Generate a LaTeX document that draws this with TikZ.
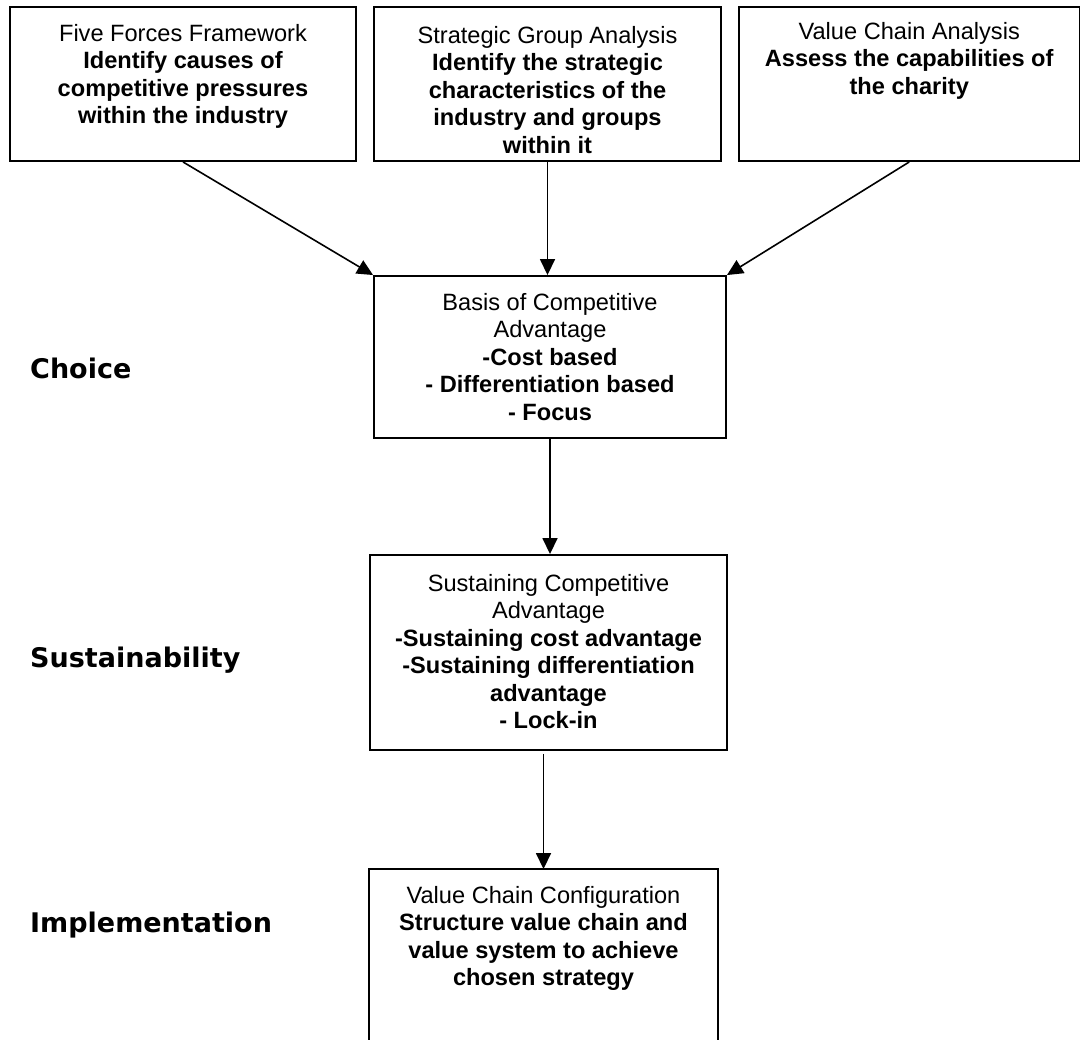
\documentclass[tikz,border=0pt]{standalone}
\usepackage{fontspec}
\setmainfont{Liberation Sans}
\newfontfamily\stagefont{DejaVu Sans}
\usetikzlibrary{arrows.meta}
\begin{document}
\begin{tikzpicture}[x=1pt,y=-1pt,
  box/.style={draw, line width=1.9pt, rectangle, inner sep=0pt},
  boxtext/.style={anchor=north, align=center, inner sep=0pt,
    font=\fontsize{23.6}{27.5}\selectfont},
  link/.style={line width=1.6pt, -{Triangle[length=16pt,width=15pt]}},
  stage/.style={anchor=base west, inner sep=0pt,
    font=\stagefont\bfseries\fontsize{27}{32}\selectfont}]
\useasboundingbox[fill=white] (0,0) rectangle (1081,1039);

% analysis boxes along the top
\node[box, minimum width=346pt, minimum height=154pt] (forces) at (183,84) {};
\node[box, minimum width=347pt, minimum height=154pt] (groups) at (547.5,84) {};
\node[box, minimum width=340.5pt, minimum height=154pt] (chain) at (909.25,84) {};

\node[boxtext] (forcesT) at (183,24) {Five Forces Framework\\
  \textbf{Identify causes of}\\ \textbf{competitive pressures}\\ \textbf{within the industry}};
\node[boxtext] (groupsT) at (547.5,26) {Strategic Group Analysis\\
  \textbf{Identify the strategic}\\ \textbf{characteristics of the}\\
  \textbf{industry and groups}\\ \textbf{within it}};
\node[boxtext] (chainT) at (909.25,22) {Value Chain Analysis\\
  \textbf{Assess the capabilities of}\\ \textbf{the charity}};

% strategy boxes down the middle
\node[box, minimum width=352pt, minimum height=162pt] (basis) at (550,357) {};
\node[boxtext] (basisT) at (550,293) {Basis of Competitive\\ Advantage\\
  \textbf{-Cost based}\\ \textbf{- Differentiation based}\\ \textbf{- Focus}};

\node[box, minimum width=357pt, minimum height=195pt] (sust) at (548.5,652.5) {};
\node[boxtext] (sustT) at (548.5,574) {Sustaining Competitive\\ Advantage\\
  \textbf{-Sustaining cost advantage}\\ \textbf{-Sustaining differentiation}\\
  \textbf{advantage}\\ \textbf{- Lock-in}};

\node[box, draw=none, minimum width=347pt, minimum height=169pt] (config) at (543.5,954.5) {};
\draw[line width=1.9pt] (config.south west) -- (config.north west)
  -- (config.north east) -- (config.south east);
\node[boxtext] (configT) at (543.5,886) {Value Chain Configuration\\
  \textbf{Structure value chain and}\\ \textbf{value system to achieve}\\
  \textbf{chosen strategy}};

% stage labels on the left
\node[stage] (choice) at (30,378) {Choice};
\node[stage] (sustainability) at (30,667) {Sustainability};
\node[stage] (implementation) at (30,932) {Implementation};

% connectors
\draw[link] (forces.south) -- (basis.north west);
\draw[link] (groups.south) -- (groups.south |- basis.north);
\draw[link] (chain.south) -- (basis.north east);
\draw[link] (basis.south) -- (basis.south |- sust.north);
\draw[link, shorten <=3pt] (config.north |- sust.south) -- (config.north);
\end{tikzpicture}
\end{document}
